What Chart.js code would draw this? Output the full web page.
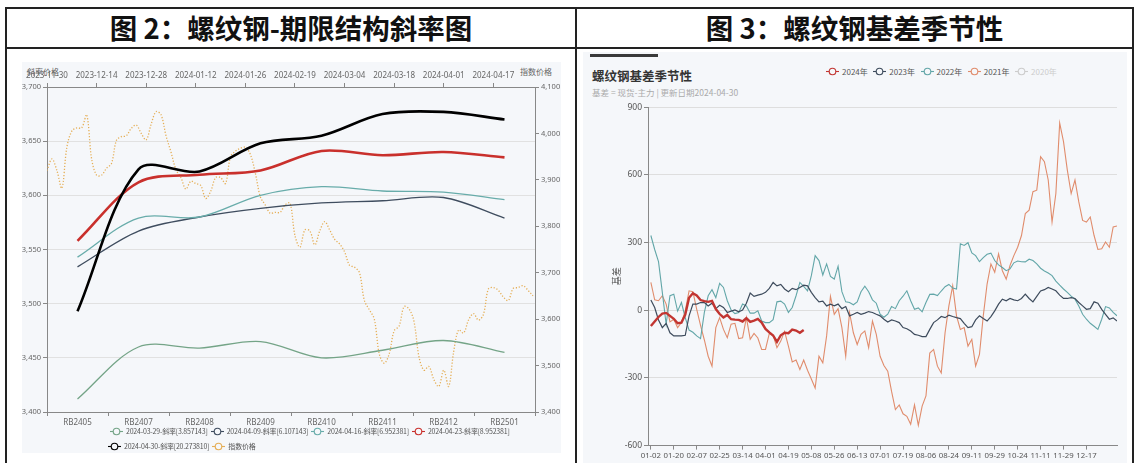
<!DOCTYPE html>
<html><head><meta charset="utf-8">
<script src="https://cdn.jsdelivr.net/npm/chart.js@4.4.1/dist/chart.umd.min.js"></script>
<style>
body{margin:0;width:1136px;height:463px;background:#fff;position:relative;overflow:hidden;font-family:"Noto Sans CJK SC","Noto Sans",sans-serif;}
.abs{position:absolute}
.line{position:absolute;background:#222}
.ttl{position:absolute;top:7px;height:41px;line-height:41px;text-align:center;font-size:27.5px;font-weight:700;color:#111;white-space:nowrap}
.lg{position:absolute;display:flex;align-items:center;white-space:nowrap;color:#555}
.lg .it{display:flex;align-items:center}
.lg svg{margin-right:3px}
#lgL1 .it,#lgL2 .it{margin-right:3px;letter-spacing:-0.2px}
#lgR .it{margin-right:5.5px}
</style></head>
<body>
<div class="line" style="left:5px;top:7px;width:1129px;height:2px"></div>
<div class="line" style="left:5px;top:47px;width:1129px;height:2px"></div>
<div class="line" style="left:5px;top:7px;width:2px;height:456px"></div>
<div class="line" style="left:575px;top:7px;width:2px;height:456px"></div>
<div class="line" style="left:1132px;top:7px;width:2px;height:456px"></div>
<div class="ttl" style="left:7px;width:568px">图 2：螺纹钢-期限结构斜率图</div>
<div class="ttl" style="left:577px;width:555px">图 3：螺纹钢基差季节性</div>

<div class="abs" style="left:22px;top:62px;width:539px;height:391px;background:#f5f7fa"></div>
<div class="abs" style="left:583px;top:52px;width:544px;height:411px;background:#f5f7fa"></div>
<div class="abs" style="left:590px;top:54px;width:68px;height:2.5px;background:#3a3a3a"></div>
<div class="abs" style="left:592px;top:66px;font-size:12.5px;font-weight:700;color:#333">螺纹钢基差季节性</div>
<div class="abs" style="left:592px;top:86px;font-size:8.5px;color:#aaa">基差 = 现货-主力 | 更新日期2024-04-30</div>
<div class="abs" style="left:27px;top:66px;font-size:8px;color:#666">斜率价格</div>
<div class="abs" style="left:520px;top:66px;font-size:8px;color:#666">指数价格</div>

<canvas id="cL" class="abs" style="left:18px;top:62px" width="546" height="368"></canvas>
<canvas id="cR" class="abs" style="left:583px;top:100px" width="545" height="363"></canvas>
<div id="lgL1" class="lg" style="left:110px;top:426px;font-size:7px"></div>
<div id="lgL2" class="lg" style="left:108px;top:441px;font-size:7px"></div>
<div id="lgR" class="lg" style="left:826px;top:66px;font-size:8px"></div>

<script>
// ---------- Figure 2: term structure ----------
const contracts = ['RB2405','RB2407','RB2408','RB2409','RB2410','RB2411','RB2412','RB2501'];
const curve0329 = [3412,3460,3459,3465,3450,3457,3466,3455];
const curve0409 = [3534,3567,3580,3588,3593,3595,3598,3579];
const curve0416 = [3543,3579,3580,3600,3608,3604,3603,3596];
const curve0423 = [3558,3612,3619,3623,3641,3637,3640,3635];
const curve0430 = [3493,3624,3622,3648,3655,3675,3677,3670];
const curveNames = ['2024-03-29-斜率[3.857143]','2024-04-09-斜率[6.107143]','2024-04-16-斜率[6.952381]','2024-04-23-斜率[8.952381]','2024-04-30-斜率[20.273810]','指数价格'];
const indexDates = ['2023-11-30','2023-12-14','2023-12-28','2024-01-12','2024-01-26','2024-02-19','2024-03-04','2024-03-18','2024-04-01','2024-04-17'];
const indexPrice = [3920,3945,3920,3882,3970,4005,4012,4012,4040,3945,
 3910,3910,3925,3935,3985,3993,3995,4011,4018,4000,
 3986,4020,4047,4040,3995,3960,3922,3905,3880,3897,
 3892,3888,3860,3875,3905,3905,3892,3950,3962,3968,
 3970,3955,3915,3864,3846,3828,3830,3830,3846,3850,
 3780,3755,3792,3790,3760,3790,3810,3792,3772,3762,
 3745,3716,3712,3700,3640,3620,3600,3525,3505,3525,
 3575,3585,3627,3622,3595,3519,3490,3498,3470,3455,
 3490,3455,3530,3577,3570,3598,3612,3598,3610,3665,
 3668,3662,3648,3640,3666,3668,3672,3662,3650];

// ---------- Figure 3: basis seasonality (one value every 2 trading days) ----------
const seasonTicks = ['01-02','01-20','02-07','02-25','03-14','04-01','04-19','05-08','05-26','06-13','07-01','07-19','08-06','08-24','09-11','09-29','10-24','11-11','11-29','12-17'];
const seasonYears = ['2024年','2023年','2022年','2021年','2020年'];
const basis2024 = [-70,-50,-30,-15,-12,-25,-38,-58,-55,-20,55,75,65,45,40,37,41,5,-17,-32,-21,-40,-42,-43,-50,-35,-52,-46,-39,-55,-83,-98,-112,-140,-111,-100,-102,-86,-90,-100,-88];
const basis2023 = [45,12,-43,-77,-58,-100,-114,-114,-114,-111,-25,27,27,34,34,19,31,7,22,12,-10,-4,1,-7,1,31,76,61,67,71,79,97,123,108,114,94,82,97,91,101,111,108,79,56,37,40,19,27,19,27,7,16,
 -25,-18,-10,-18,-13,-6,-10,-18,-25,-40,-52,-43,-48,-55,-77,-82,-92,-107,-111,-117,-117,-85,-55,-43,-28,-33,-22,-28,-33,-37,-58,-77,-73,-43,-25,-37,-48,-28,-3,27,49,42,52,46,42,52,71,52,37,61,85,91,101,94,86,67,52,52,56,52,34,19,4,7,37,31,4,-18,-40,-34,-48];
const basis2022 = [331,269,215,79,-62,64,71,-4,34,-33,-88,-98,-114,-126,-10,64,91,56,119,101,42,1,-15,-10,27,19,-13,-13,-3,-48,-55,-55,-42,37,40,27,-10,12,64,123,106,86,153,242,220,156,205,150,138,195,82,37,
 34,24,37,82,106,82,46,31,-18,-31,-18,16,7,42,62,86,42,4,10,-7,34,70,71,65,85,104,114,98,94,294,287,299,254,242,215,233,248,253,220,201,189,175,183,210,218,215,214,226,220,205,186,174,165,153,129,111,94,79,62,49,19,-18,-40,-58,-71,-85,-40,16,10,-10,-25];
const basis2021 = [123,46,42,64,27,-52,-40,-77,-55,-3,86,82,4,-67,-132,-204,-248,-77,-33,-85,-122,-62,-58,-126,-122,-33,-129,-103,-123,-174,-174,-103,-111,-166,-137,-94,-159,-229,-221,-263,-221,-266,-305,-345,-204,-233,-114,61,-18,7,-77,-204,
 -10,-100,-152,-107,-92,-166,-48,-107,-204,-245,-270,-360,-440,-420,-459,-470,-505,-420,-510,-425,-380,-190,-174,-248,-278,-100,19,108,-25,-85,-77,-159,-129,-248,-196,-25,116,205,168,250,175,138,198,242,279,331,428,443,525,532,680,658,577,391,517,829,747,621,517,577,480,398,391,413,331,269,272,302,279,369,373];
const STEP = 2;

const leftColors = ['#74a487','#3f4d5f','#68acaa','#c9302c','#000000','#e5ae55'];
const rightColors = ['#c23531','#3d4b5c','#62a6a8','#e08c6c','#cccccc'];

Chart.defaults.font.family = '"Noto Sans","Noto Sans CJK SC",sans-serif';
Chart.defaults.color = '#666';

function marker(c){
  return `<svg width="13" height="9"><line x1="0" y1="4.5" x2="13" y2="4.5" stroke="${c}" stroke-width="1.1"/><circle cx="6.5" cy="4.5" r="3.3" fill="#f5f7fa" stroke="${c}" stroke-width="1.1"/></svg>`;
}
function legendHTML(names, colors, textColors){
  return names.map((n,i)=>`<span class="it">${marker(colors[i])}<span style="color:${textColors? textColors[i]:'#555'}">${n}</span></span>`).join('');
}
document.getElementById('lgL1').innerHTML = legendHTML(curveNames.slice(0,4), leftColors.slice(0,4));
document.getElementById('lgL2').innerHTML = legendHTML(curveNames.slice(4), leftColors.slice(4));
document.getElementById('lgR').innerHTML = legendHTML(seasonYears, rightColors, ['#555','#555','#555','#555','#ccc']);

const fmt = v => Number(v).toLocaleString('en-US');

new Chart(document.getElementById('cL'), {
  type:'line',
  data:{
    labels: contracts,
    datasets:[
      {data:curve0430, borderColor:leftColors[4], borderWidth:2.6, xAxisID:'x', yAxisID:'yL'},
      {data:curve0423, borderColor:leftColors[3], borderWidth:2.6, xAxisID:'x', yAxisID:'yL'},
      {data:curve0416, borderColor:leftColors[2], borderWidth:1.3, xAxisID:'x', yAxisID:'yL'},
      {data:curve0409, borderColor:leftColors[1], borderWidth:1.3, xAxisID:'x', yAxisID:'yL'},
      {data:curve0329, borderColor:leftColors[0], borderWidth:1.3, xAxisID:'x', yAxisID:'yL'},
      {data:indexPrice.map((v,i)=>({x:i,y:v})), borderColor:leftColors[5], borderWidth:1.3, borderDash:[1.2,1.8], xAxisID:'xTop', yAxisID:'yR', tension:0.35}
    ]
  },
  options:{
    responsive:false, animation:false,
    layout:{padding:0},
    elements:{point:{radius:0}, line:{tension:0.33, fill:false}},
    plugins:{legend:{display:false}, tooltip:{enabled:false}},
    scales:{
      x:{type:'category', position:'bottom', offset:true,
         grid:{offset:true, drawOnChartArea:false, tickLength:4, tickColor:'#888'},
         border:{color:'#888'},
         ticks:{font:{size:8}, padding:2, maxRotation:0, autoSkip:false, color:'#666'},
         afterFit:s=>{s.height=18;}},
      xTop:{type:'linear', position:'top', min:0, max:98.4,
         afterBuildTicks:s=>{s.ticks = indexDates.map((d,i)=>({value:i*10}));},
         ticks:{font:{size:8}, padding:2, maxRotation:0, autoSkip:false, color:'#666', callback:v=>indexDates[Math.round(v/10)]},
         grid:{drawOnChartArea:false, tickLength:4, tickColor:'#888'},
         border:{color:'#888'},
         afterFit:s=>{s.height=25;}},
      yL:{type:'linear', position:'left', min:3400, max:3700,
         ticks:{stepSize:50, font:{size:7.5}, padding:2, color:'#666', callback:fmt},
         grid:{color:'#e1e1e1', tickLength:4, tickColor:'#888'},
         border:{color:'#888'},
         afterFit:s=>{s.width=29;}},
      yR:{type:'linear', position:'right', min:3400, max:4100,
         ticks:{stepSize:100, font:{size:7.5}, padding:2, color:'#666', callback:fmt},
         grid:{drawOnChartArea:false, tickLength:4, tickColor:'#888'},
         border:{color:'#888'},
         afterFit:s=>{s.width=29;}}
    }
  }
});

const toXY = arr => arr.map((v,i)=>({x:i*STEP, y:v}));
new Chart(document.getElementById('cR'), {
  type:'line',
  data:{datasets:[
    {label:seasonYears[0], data:toXY(basis2024), borderColor:rightColors[0], borderWidth:2.4},
    {label:seasonYears[1], data:toXY(basis2023), borderColor:rightColors[1], borderWidth:1.2},
    {label:seasonYears[2], data:toXY(basis2022), borderColor:rightColors[2], borderWidth:1.1},
    {label:seasonYears[3], data:toXY(basis2021), borderColor:rightColors[3], borderWidth:1.1}
  ]},
  options:{
    responsive:false, animation:false,
    layout:{padding:{right:11}},
    elements:{point:{radius:0}, line:{tension:0, fill:false}},
    plugins:{legend:{display:false}, tooltip:{enabled:false}},
    scales:{
      x:{type:'linear', min:-1.5, max:244,
         afterBuildTicks:s=>{s.ticks = seasonTicks.map((t,i)=>({value:i*12}));},
         ticks:{font:{size:7.8}, padding:1, maxRotation:0, autoSkip:false, color:'#555', callback:v=>seasonTicks[Math.round(v/12)]},
         grid:{drawOnChartArea:false, tickLength:4, tickColor:'#888'},
         border:{color:'#888'},
         afterFit:s=>{s.height=17.4;}},
      y:{min:-600, max:900,
         ticks:{stepSize:300, font:{size:8.5}, padding:2, color:'#555'},
         grid:{color:'#dedede', tickLength:4, tickColor:'#888'},
         border:{color:'#888'},
         title:{display:true, text:'基差', font:{size:9}, color:'#555', padding:{top:29,bottom:0}},
         afterFit:s=>{s.width=65;}}
    }
  }
});
</script>
</body></html>
